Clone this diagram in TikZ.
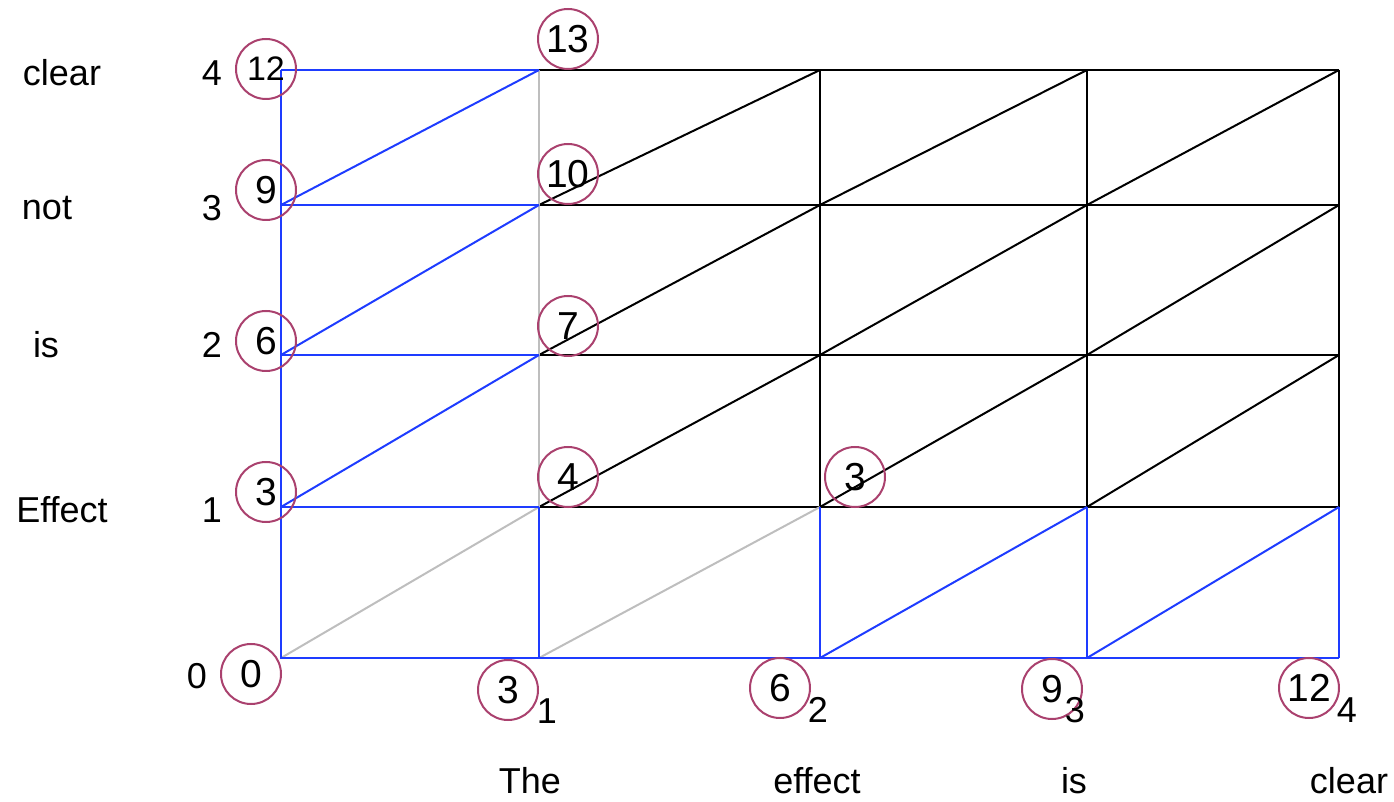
\documentclass[tikz,border=0pt]{standalone}
\usepackage{fontspec}
\setmainfont{Liberation Sans}
\definecolor{pathblue}{RGB}{30,60,255}
\definecolor{pathgray}{RGB}{190,190,190}
\definecolor{costpink}{RGB}{170,65,110}
\tikzset{
  cost/.style={circle, draw=costpink, line width=1pt, minimum size=30pt,
    inner sep=0pt, font=\fontsize{19.5}{20}\selectfont},
  lbl/.style={inner sep=0pt, font=\fontsize{18}{18}\selectfont},
  cell/.style={line width=1pt, black},
  best/.style={line width=1pt, pathblue},
  skip/.style={line width=1pt, pathgray}
}
\begin{document}
\begin{tikzpicture}[x=0.5pt, y=-0.5pt]
  \useasboundingbox (0,0) rectangle (1394,802);
  % lattice points
  \foreach \i/\x in {0/281,1/539,2/820,3/1087,4/1339}
    \foreach \j/\y in {0/658,1/507,2/355,3/205,4/70}
      \coordinate (g\i\j) at (\x,\y);
  % plain cells
  \foreach \j in {1,...,4} \draw[cell] (g1\j) -- (g4\j);
  \foreach \i in {2,3,4} \draw[cell] (g\i1) -- (g\i4);
  \foreach \i/\k in {1/2,2/3,3/4}
    \foreach \j/\l in {1/2,2/3,3/4}
      \draw[cell] (g\i\j) -- (g\k\l);
  % skipped edges
  \draw[skip] (g11) -- (g14);
  \draw[skip] (g00) -- (g11);
  \draw[skip] (g10) -- (g21);
  % cheapest edges
  \draw[best] (g04) -- (g00) -- (g40);
  \foreach \j in {1,...,4} \draw[best] (g0\j) -- (g1\j);
  \draw[best] (g01) -- (g12);
  \draw[best] (g02) -- (g13);
  \draw[best] (g03) -- (g14);
  \foreach \i in {1,...,4} \draw[best] (g\i0) -- (g\i1);
  \draw[best] (g20) -- (g31);
  \draw[best] (g30) -- (g41);
  % costs
  \node[cost, font=\fontsize{17}{17}\selectfont] (c04) at (266,69) {12};
  \node[cost] (c03) at (266,190) {9};
  \node[cost] (c02) at (266,341) {6};
  \node[cost] (c01) at (266,492) {3};
  \node[cost] (c00) at (251,674) {0};
  \node[cost] (c14) at (568,39) {13};
  \node[cost] (c13) at (568,174) {10};
  \node[cost] (c12) at (568,326) {7};
  \node[cost] (c11) at (568,477) {4};
  \node[cost] (c21) at (855,477) {3};
  \node[cost] (c10) at (508,690) {3};
  \node[cost] (c20) at (780,688) {6};
  \node[cost] (c30) at (1052,689) {9};
  \node[cost] (c40) at (1309,688) {12};
  % indices
  \node[lbl] (s1) at (547,711) {1};
  \node[lbl] (s2) at (818,710) {2};
  \node[lbl] (s3) at (1075,710) {3};
  \node[lbl] (s4) at (1347,710) {4};
  \node[lbl] (r4) at (212,73) {4};
  \node[lbl] (r3) at (212,208) {3};
  \node[lbl] (r2) at (212,345) {2};
  \node[lbl] (r1) at (212,510) {1};
  \node[lbl] (r0) at (197,676) {0};
  % words
  \node[lbl] (w4) at (62,73) {clear};
  \node[lbl] (w3) at (47,208) {not};
  \node[lbl] (w2) at (46,345) {is};
  \node[lbl] (w1) at (62,510) {Effect};
  \node[lbl] (t1) at (530,781) {The};
  \node[lbl] (t2) at (817,781) {effect};
  \node[lbl] (t3) at (1074,781) {is};
  \node[lbl] (t4) at (1349,781) {clear};
\end{tikzpicture}
\end{document}
